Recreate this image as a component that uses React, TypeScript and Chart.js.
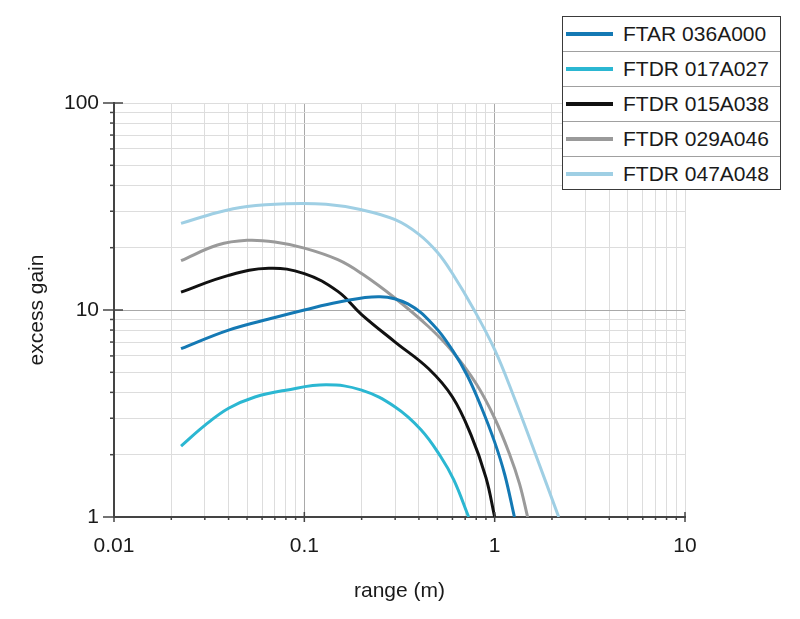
import React, { useEffect, useRef } from 'react';
import { Chart, registerables } from 'chart.js';

Chart.register(...registerables);

// range (m) / excess gain
const rangeFTAR036 = [0.0225, 0.04, 0.07, 0.1, 0.15, 0.25, 0.35, 0.48, 0.6, 0.72, 0.85, 1.0, 1.13, 1.27];
const gainFTAR036 = [6.5, 8.0, 9.2, 10.0, 10.9, 11.6, 10.7, 8.4, 6.4, 4.8, 3.4, 2.3, 1.6, 1.0];

const rangeFTDR017 = [0.0225, 0.03, 0.04, 0.055, 0.08, 0.13, 0.2, 0.3, 0.41, 0.52, 0.61, 0.73];
const gainFTDR017 = [2.2, 2.77, 3.35, 3.8, 4.1, 4.35, 4.1, 3.4, 2.64, 1.96, 1.51, 1.0];

const rangeFTDR015 = [0.0225, 0.04, 0.065, 0.1, 0.15, 0.2, 0.3, 0.45, 0.6, 0.75, 0.9, 1.0];
const gainFTDR015 = [12.2, 14.7, 15.9, 15.0, 12.3, 9.5, 7.0, 5.2, 3.8, 2.5, 1.55, 1.0];

const rangeFTDR029 = [0.0225, 0.035, 0.05, 0.07, 0.1, 0.15, 0.2, 0.3, 0.45, 0.6, 0.8, 1.0, 1.2, 1.35, 1.49];
const gainFTDR029 = [17.3, 20.6, 21.7, 21.3, 19.9, 17.5, 15.0, 11.4, 8.3, 6.3, 4.4, 3.0, 2.0, 1.45, 1.0];

const rangeFTDR047 = [0.0225, 0.035, 0.05, 0.08, 0.13, 0.2, 0.3, 0.4, 0.5, 0.6, 0.78, 1.0, 1.26, 1.61, 2.17];
const gainFTDR047 = [26.2, 29.6, 31.6, 32.6, 32.4, 30.5, 27.3, 23.2, 19.0, 15.0, 10.0, 6.43, 3.82, 2.1, 1.0];

const seriesLabels = ['FTAR 036A000', 'FTDR 017A027', 'FTDR 015A038', 'FTDR 029A046', 'FTDR 047A048'];
const seriesColors = ['#1479b4', '#2bb7d2', '#111111', '#9a9a9a', '#9fcfe4'];
const seriesRanges = [rangeFTAR036, rangeFTDR017, rangeFTDR015, rangeFTDR029, rangeFTDR047];
const seriesGains = [gainFTAR036, gainFTDR017, gainFTDR015, gainFTDR029, gainFTDR047];

const xDecades = [0.01, 0.1, 1];
const yDecades = [1, 10];
const xMax = 10;
const yMax = 100;

const FONT = '"Liberation Sans", Arial, Helvetica, sans-serif';

const logTicks = (decades: number[], max: number) => {
    const out: number[] = [];
    decades.forEach(d => {
        for (let m = 1; m < 10; m++) out.push(+(d * m).toPrecision(3));
    });
    out.push(max);
    return out;
};

const isDecade = (v: number) => Math.abs(Math.log10(v) - Math.round(Math.log10(v))) < 1e-6;

// small axis tick marks: long for decades, short for the rest
const axisTicks = {
    id: 'axisTicks',
    afterDraw(chart: any) {
        const { ctx, chartArea, scales } = chart;
        ctx.save();
        ctx.strokeStyle = '#444';
        ctx.lineWidth = 1.5;
        scales.y.ticks.forEach((t: any) => {
            const y = scales.y.getPixelForValue(t.value);
            const major = isDecade(t.value);
            ctx.beginPath();
            ctx.moveTo(chartArea.left - (major ? 11 : 4), y);
            ctx.lineTo(chartArea.left + (major ? 9 : 1), y);
            ctx.stroke();
        });
        scales.x.ticks.forEach((t: any) => {
            const x = scales.x.getPixelForValue(t.value);
            const major = isDecade(t.value);
            ctx.beginPath();
            ctx.moveTo(x, chartArea.bottom - (major ? 5 : 1));
            ctx.lineTo(x, chartArea.bottom + (major ? 5 : 3));
            ctx.stroke();
        });
        ctx.restore();
    }
};

const Legend: React.FC = () => (
    <div style={{
        position: 'absolute', left: 562, top: 16, width: 219, height: 174,
        border: '1.5px solid #3a3a3a', background: '#fff', boxSizing: 'border-box',
        fontFamily: FONT, fontSize: 21, color: '#1a1a1a',
    }}>
        {seriesLabels.map((label, i) => (
            <div key={label} style={{
                display: 'flex', alignItems: 'center', height: i === 0 ? 34 : 35,
                borderTop: i === 0 ? 'none' : '1px solid #a0a0a0', boxSizing: 'border-box',
            }}>
                <span style={{ display: 'inline-block', width: 47, height: 3.5, marginLeft: 3, background: seriesColors[i] }} />
                <span style={{ marginLeft: 10, whiteSpace: 'nowrap' }}>{label}</span>
            </div>
        ))}
    </div>
);

const App: React.FC = () => {
    const chartRef = useRef<HTMLCanvasElement | null>(null);

    useEffect(() => {
        document.body.style.margin = '0';
        if (!chartRef.current) return;
        const ctx = chartRef.current.getContext('2d');
        if (!ctx) return;

        const xTicks = logTicks(xDecades, xMax);
        const yTicks = logTicks(yDecades, yMax);

        const gridColor = (interior: number[]) => (c: any) =>
            interior.includes(c.tick?.value) ? '#a9a9a9' : '#dddddd';

        const chart = new Chart(ctx, {
            type: 'line',
            data: {
                datasets: seriesLabels.map((label, i) => ({
                    label,
                    data: seriesRanges[i].map((x, j) => ({ x, y: seriesGains[i][j] })),
                    borderColor: seriesColors[i],
                    backgroundColor: seriesColors[i],
                    borderWidth: 3,
                    pointRadius: 0,
                    fill: false,
                    tension: 0.4,
                })),
            },
            options: {
                responsive: false,
                animation: false,
                layout: { padding: { left: 0, right: 115, top: 103, bottom: 0 } },
                plugins: {
                    legend: { display: false },
                    tooltip: { enabled: false },
                },
                scales: {
                    x: {
                        type: 'logarithmic',
                        min: 0.01,
                        max: xMax,
                        afterBuildTicks: (s: any) => { s.ticks = xTicks.map(value => ({ value })); },
                        afterFit: (s: any) => { s.height = 102; },
                        grid: { color: gridColor([0.1, 1]), lineWidth: 1, drawTicks: false },
                        border: { display: true, color: '#444', width: 2 },
                        ticks: {
                            autoSkip: false,
                            maxRotation: 0,
                            padding: 17,
                            color: '#1a1a1a',
                            font: { family: FONT, size: 21 },
                            callback: (v: any) => (isDecade(Number(v)) ? String(Number(v)) : ''),
                        },
                        title: {
                            display: true,
                            text: 'range (m)',
                            color: '#1a1a1a',
                            font: { family: FONT, size: 21 },
                            padding: { top: 0, bottom: 15 },
                        },
                    },
                    y: {
                        type: 'logarithmic',
                        min: 1,
                        max: yMax,
                        afterBuildTicks: (s: any) => { s.ticks = yTicks.map(value => ({ value })); },
                        afterFit: (s: any) => { s.width = 114; },
                        grid: { color: gridColor([10]), lineWidth: 1, drawTicks: false },
                        border: { display: true, color: '#444', width: 2 },
                        ticks: {
                            autoSkip: false,
                            padding: 15,
                            color: '#1a1a1a',
                            font: { family: FONT, size: 21 },
                            callback: (v: any) => (isDecade(Number(v)) ? String(Number(v)) : ''),
                        },
                        title: {
                            display: true,
                            text: 'excess gain',
                            color: '#1a1a1a',
                            font: { family: FONT, size: 21 },
                            padding: { top: 25, bottom: 0 },
                        },
                    },
                },
            },
            plugins: [axisTicks],
        });

        return () => {
            chart.destroy();
        };
    }, []);

    return (
        <div style={{ position: 'relative', width: 800, height: 619, background: '#fff' }}>
            <canvas ref={chartRef} width={800} height={619} />
            <Legend />
        </div>
    );
};

export default App;
